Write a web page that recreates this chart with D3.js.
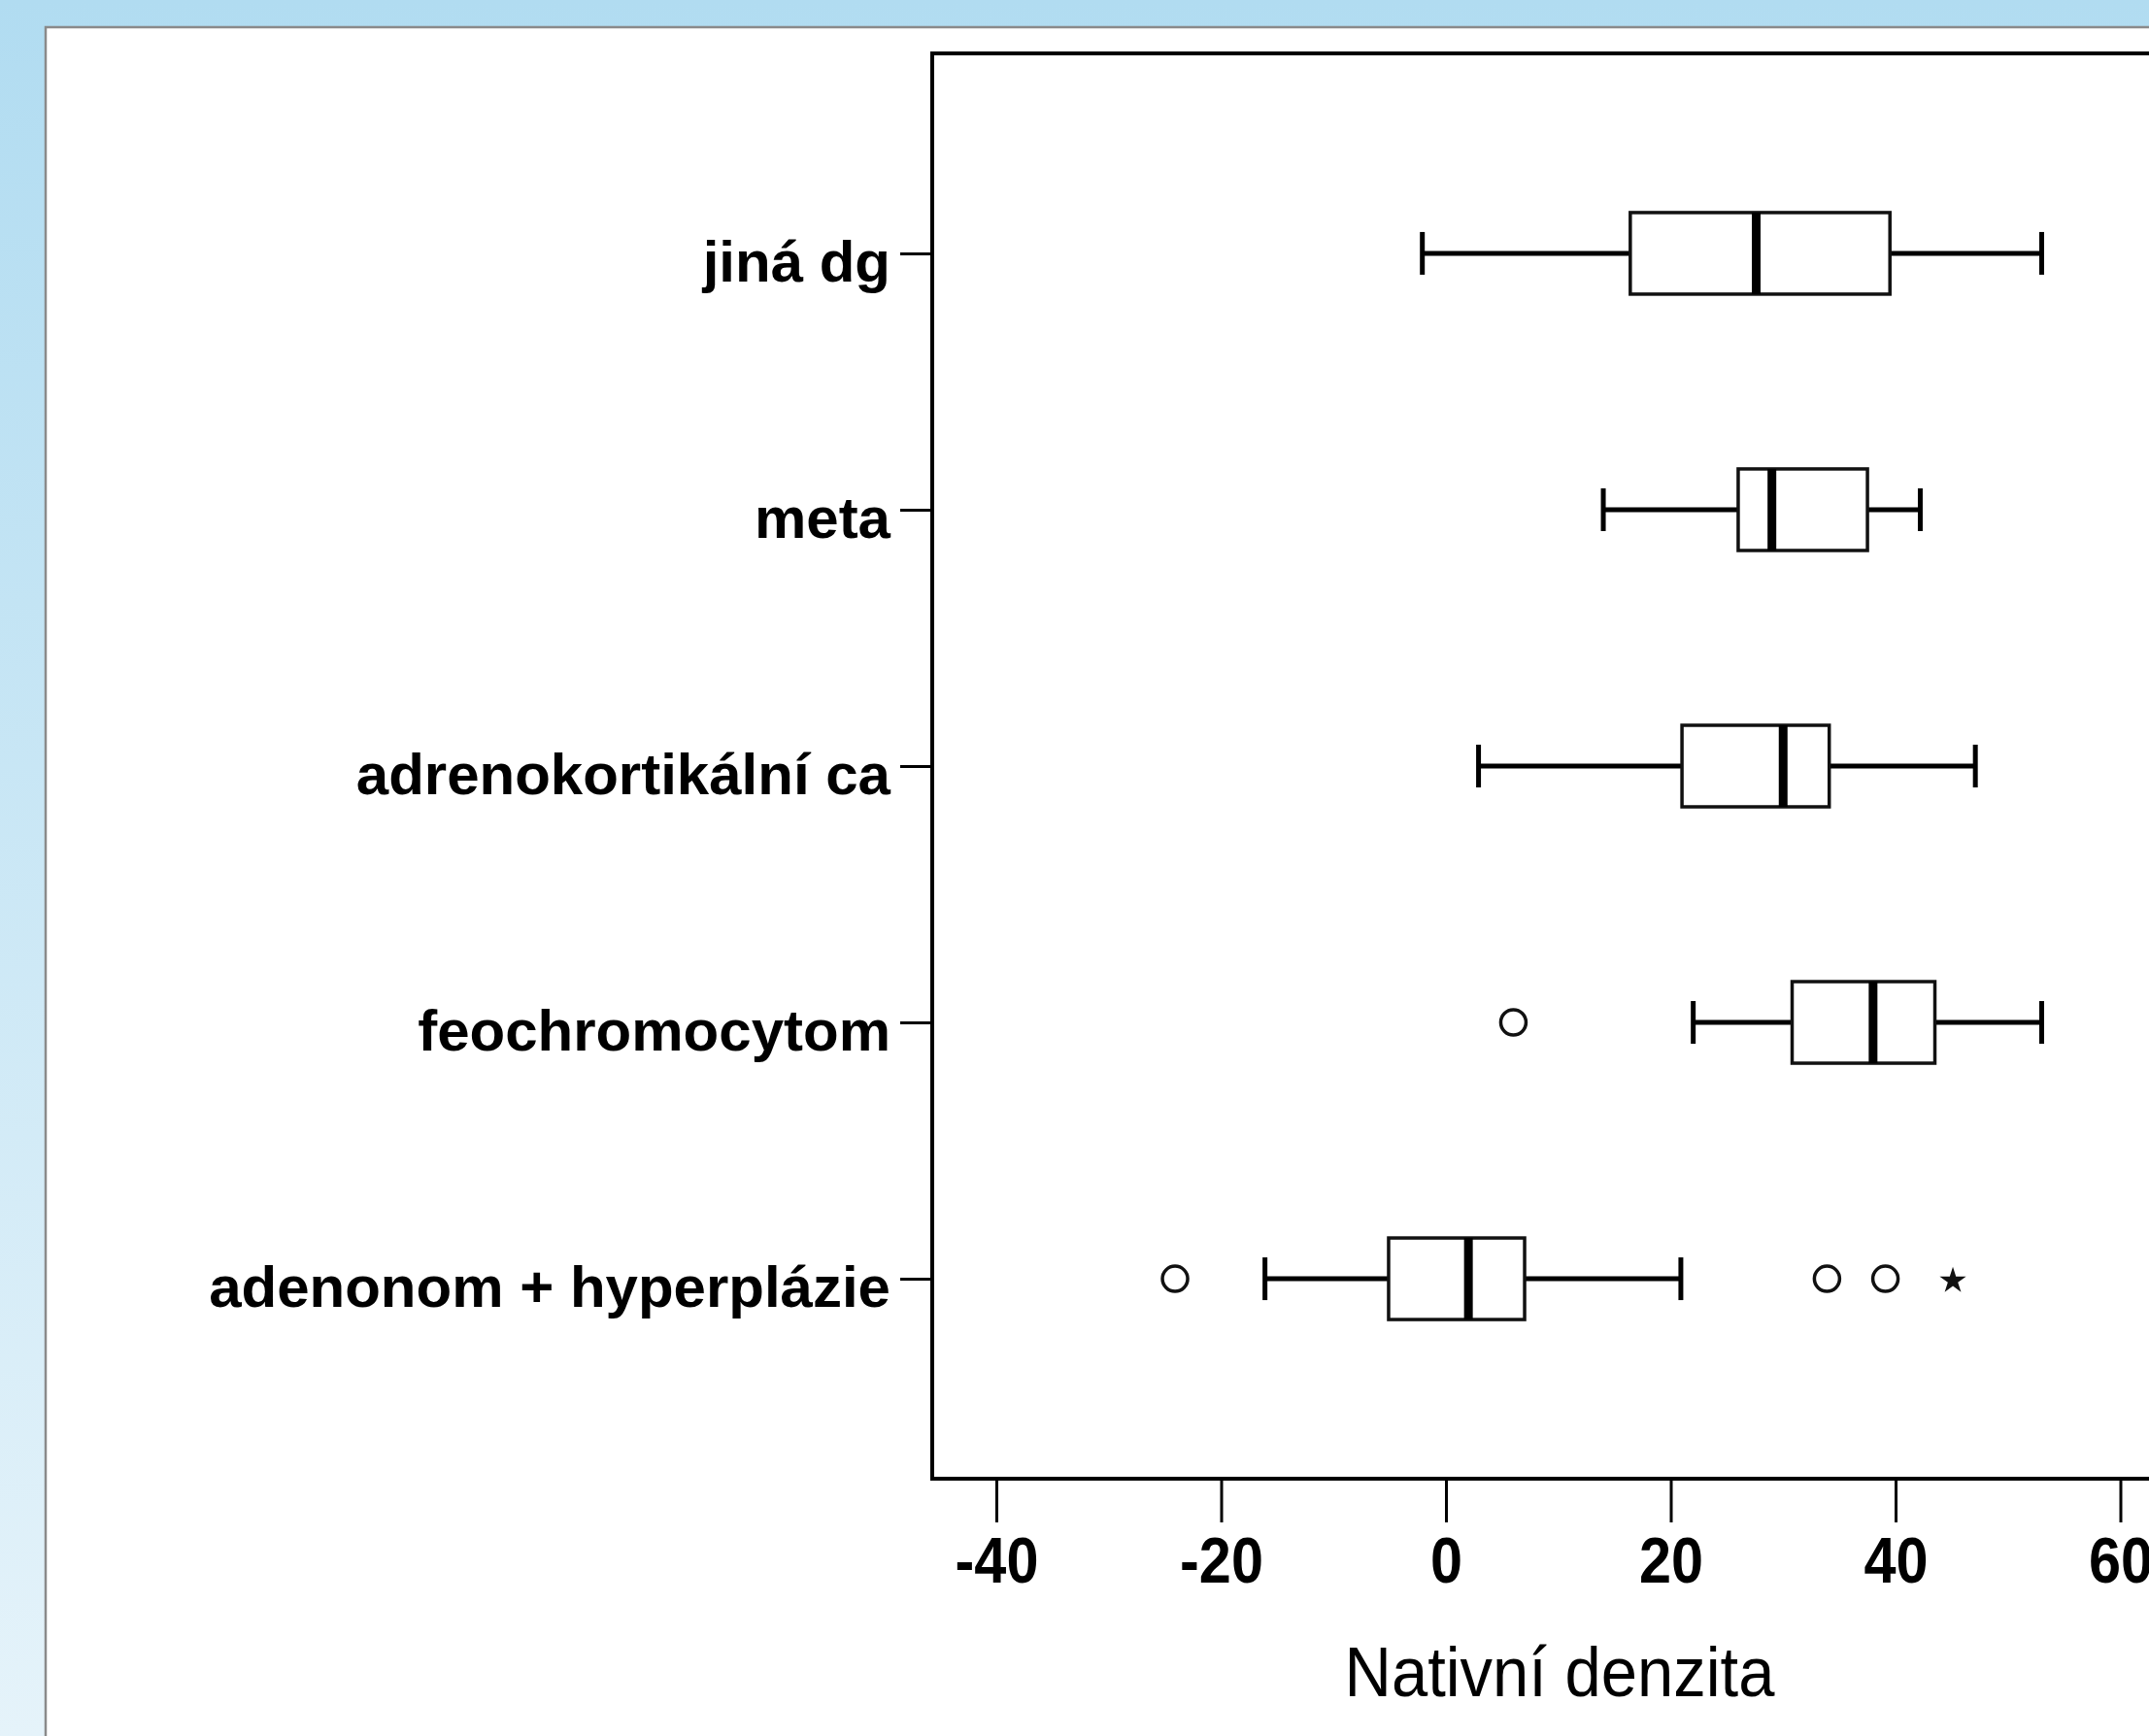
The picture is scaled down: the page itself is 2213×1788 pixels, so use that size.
<!DOCTYPE html>
<html>
<head>
<meta charset="utf-8">
<script src="https://cdn.jsdelivr.net/npm/d3@7"></script>
<style>
  body { margin: 0; overflow: hidden; }
  svg { display: block; }
</style>
</head>
<body>
<script>
// category order top -> bottom
var categories = ['jiná dg', 'meta', 'adrenokortikální ca', 'feochromocytom', 'adenonom + hyperplázie'];
var whiskerLow  = [-2.1, 14.0,  2.9, 22.0, -16.1];
var q1          = [16.4, 26.0, 21.0, 30.8,  -5.1];
var median      = [27.6, 29.0, 30.0, 38.0,   2.0];
var q3          = [39.5, 37.5, 34.1, 43.5,   7.0];
var whiskerHigh = [53.0, 42.2, 47.1, 53.0,  20.9];

// outliers: circles are mild, star is extreme
var outlierCategory = ['feochromocytom', 'adenonom + hyperplázie', 'adenonom + hyperplázie', 'adenonom + hyperplázie', 'adenonom + hyperplázie'];
var outlierValue    = [6.0, -24.1, 33.9, 39.1, 45.1];
var outlierKind     = ['circle', 'circle', 'circle', 'circle', 'star'];

var xTicks = [-40, -20, 0, 20, 40, 60];
var xTitle = 'Nativní denzita';

var W = 2213, H = 1788;
var plot = { left: 960, top: 55, right: 2252, bottom: 1523 };

var svg = d3.select('body').append('svg')
  .attr('width', W)
  .attr('height', H);

// blue page background
var grad = svg.append('defs').append('linearGradient')
  .attr('id', 'bg').attr('x1', 0).attr('y1', 0).attr('x2', 0).attr('y2', 1);
grad.append('stop').attr('offset', '0%').attr('stop-color', '#b1dcf1');
grad.append('stop').attr('offset', '100%').attr('stop-color', '#e5f3fa');

svg.append('rect').attr('width', W).attr('height', H).attr('fill', 'url(#bg)');

// white panel
svg.append('rect')
  .attr('x', 47).attr('y', 28)
  .attr('width', W + 20).attr('height', H + 20)
  .attr('fill', '#fff')
  .attr('stroke', '#8a8a8a')
  .attr('stroke-width', 2.5);

var x = d3.scaleLinear()
  .domain([(plot.left - 1489) / 11.575, (plot.right - 1489) / 11.575])
  .range([plot.left, plot.right]);

var y = d3.scalePoint()
  .domain(categories)
  .range([plot.top, plot.bottom])
  .padding(0.78);

var boxH = 84;
var capH = 44;

// plot frame
svg.append('rect')
  .attr('x', plot.left).attr('y', plot.top)
  .attr('width', plot.right - plot.left)
  .attr('height', plot.bottom - plot.top)
  .attr('fill', 'none')
  .attr('stroke', '#000')
  .attr('stroke-width', 4);

// bottom axis
var xAxis = svg.append('g')
  .attr('transform', 'translate(0,' + plot.bottom + ')')
  .call(d3.axisBottom(x).tickValues(xTicks).tickSize(45).tickPadding(15).tickFormat(d3.format('d')));
xAxis.select('.domain').remove();
xAxis.selectAll('.tick line').attr('stroke', '#000').attr('stroke-width', 3);
xAxis.selectAll('.tick text')
  .attr('fill', '#000')
  .attr('transform', 'scale(0.9,1)')
  .style('font-family', '"Liberation Sans", Arial, sans-serif')
  .style('font-size', '66px')
  .style('font-weight', 'bold')
  .text(function (d) { return d < 0 ? '-' + Math.abs(d) : d; });

// left axis
var yAxis = svg.append('g')
  .attr('transform', 'translate(' + plot.left + ',0)')
  .call(d3.axisLeft(y).tickSize(33).tickPadding(10));
yAxis.select('.domain').remove();
yAxis.selectAll('.tick line').attr('stroke', '#000').attr('stroke-width', 3);
yAxis.selectAll('.tick text')
  .attr('fill', '#000')
  .attr('dy', '0.47em')
  .style('font-family', '"Liberation Sans", Arial, sans-serif')
  .style('font-size', '60px')
  .style('font-weight', 'bold');

svg.append('text')
  .attr('transform', 'translate(1606,1747) scale(0.93,1)')
  .attr('text-anchor', 'middle')
  .style('font-family', '"Liberation Sans", Arial, sans-serif')
  .style('font-size', '72px')
  .text(xTitle);

// boxes
var boxes = categories.map(function (c, i) {
  return { cat: c, lo: whiskerLow[i], q1: q1[i], med: median[i], q3: q3[i], hi: whiskerHigh[i] };
});

var g = svg.selectAll('.box').data(boxes).enter().append('g')
  .attr('class', 'box')
  .attr('transform', function (d) { return 'translate(0,' + y(d.cat) + ')'; });

// whiskers
g.append('line')
  .attr('x1', function (d) { return x(d.lo); })
  .attr('x2', function (d) { return x(d.q1); })
  .attr('stroke', '#000').attr('stroke-width', 5);
g.append('line')
  .attr('x1', function (d) { return x(d.q3); })
  .attr('x2', function (d) { return x(d.hi); })
  .attr('stroke', '#000').attr('stroke-width', 5);

// caps
['lo', 'hi'].forEach(function (k) {
  g.append('line')
    .attr('x1', function (d) { return x(d[k]); })
    .attr('x2', function (d) { return x(d[k]); })
    .attr('y1', -capH / 2).attr('y2', capH / 2)
    .attr('stroke', '#000').attr('stroke-width', 5);
});

g.append('rect')
  .attr('x', function (d) { return x(d.q1); })
  .attr('y', -boxH / 2)
  .attr('width', function (d) { return x(d.q3) - x(d.q1); })
  .attr('height', boxH)
  .attr('fill', '#fff')
  .attr('stroke', '#111')
  .attr('stroke-width', 3.5);

g.append('line')
  .attr('x1', function (d) { return x(d.med); })
  .attr('x2', function (d) { return x(d.med); })
  .attr('y1', -boxH / 2).attr('y2', boxH / 2)
  .attr('stroke', '#000').attr('stroke-width', 9);

// outliers
var outs = outlierValue.map(function (v, i) {
  return { cat: outlierCategory[i], value: v, kind: outlierKind[i] };
});

svg.selectAll('.out-circle').data(outs.filter(function (d) { return d.kind === 'circle'; }))
  .enter().append('circle')
  .attr('class', 'out-circle')
  .attr('cx', function (d) { return x(d.value); })
  .attr('cy', function (d) { return y(d.cat); })
  .attr('r', 13)
  .attr('fill', 'none')
  .attr('stroke', '#111')
  .attr('stroke-width', 3.5);

svg.selectAll('.out-star').data(outs.filter(function (d) { return d.kind === 'star'; }))
  .enter().append('path')
  .attr('class', 'out-star')
  .attr('transform', function (d) { return 'translate(' + x(d.value) + ',' + (y(d.cat) + 2) + ')'; })
  .attr('d', d3.symbol().type(d3.symbolStar).size(230))
  .attr('fill', '#111');
</script>
</body>
</html>
